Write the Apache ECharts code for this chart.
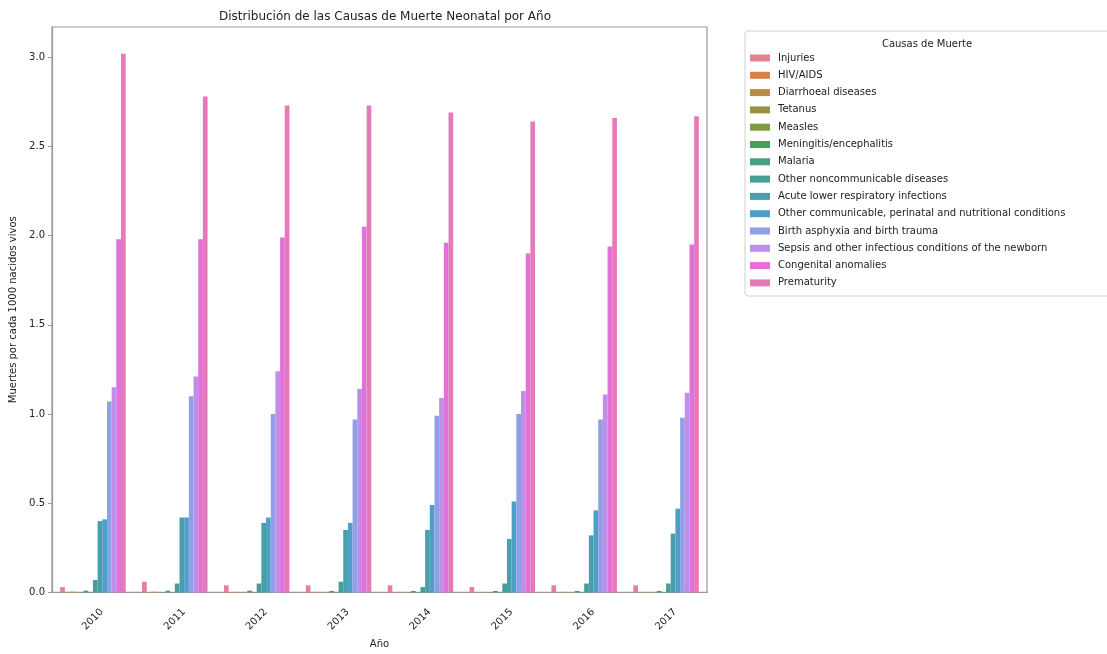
<!DOCTYPE html>
<html>
<head>
<meta charset="utf-8">
<script src="https://cdn.jsdelivr.net/npm/echarts@6/dist/echarts.min.js"></script>
<style>
html,body{margin:0;padding:0;background:#fff;}
#chart{width:1107px;height:654px;}
</style>
</head>
<body>
<div id="chart"></div>
<script>
// ---------------- DATA ----------------
const years = ['2010','2011','2012','2013','2014','2015','2016','2017'];
const causes = ['Injuries','HIV/AIDS','Diarrhoeal diseases','Tetanus','Measles','Meningitis/encephalitis','Malaria','Other noncommunicable diseases','Acute lower respiratory infections','Other communicable, perinatal and nutritional conditions','Birth asphyxia and birth trauma','Sepsis and other infectious conditions of the newborn','Congenital anomalies','Prematurity'];
const injuries      = [0.03, 0.06, 0.04, 0.04, 0.04, 0.03, 0.04, 0.04];
const hivAids       = [0.002, 0.002, 0.002, 0.002, 0.002, 0.002, 0.002, 0.002];
const diarrhoeal    = [0.004, 0.004, 0.003, 0.003, 0.003, 0.003, 0.003, 0.003];
const tetanus       = [0.003, 0.003, 0.002, 0.002, 0.002, 0.002, 0.002, 0.002];
const measles       = [0.001, 0.001, 0.001, 0.001, 0.001, 0.001, 0.001, 0.001];
const meningitis    = [0.01, 0.01, 0.01, 0.008, 0.008, 0.008, 0.008, 0.008];
const malaria       = [0.002, 0.002, 0.002, 0.002, 0.002, 0.002, 0.002, 0.002];
const otherNonComm  = [0.07, 0.05, 0.05, 0.06, 0.03, 0.05, 0.05, 0.05];
const acuteLowerResp= [0.40, 0.42, 0.39, 0.35, 0.35, 0.30, 0.32, 0.33];
const otherComm     = [0.41, 0.42, 0.42, 0.39, 0.49, 0.51, 0.46, 0.47];
const birthAsphyxia = [1.07, 1.10, 1.00, 0.97, 0.99, 1.00, 0.97, 0.98];
const sepsis        = [1.15, 1.21, 1.24, 1.14, 1.09, 1.13, 1.11, 1.12];
const congenital    = [1.98, 1.98, 1.99, 2.05, 1.96, 1.90, 1.94, 1.95];
const prematurity   = [3.02, 2.78, 2.73, 2.73, 2.69, 2.64, 2.66, 2.67];
const yTicks = [0.0, 0.5, 1.0, 1.5, 2.0, 2.5, 3.0];
const seriesValues = [injuries, hivAids, diarrhoeal, tetanus, measles, meningitis, malaria, otherNonComm, acuteLowerResp, otherComm, birthAsphyxia, sepsis, congenital, prematurity];

// ---------------- COLORS (seaborn husl palette, desaturated 0.75) ----------------
const Mx = [[3.2406,-1.5372,-0.4986],[-0.9689,1.8758,0.0415],[0.0557,-0.2040,1.0570]];
function maxChroma(L,H){
  const hr=H*Math.PI/180, s=Math.sin(hr), c=Math.cos(hr);
  const sub1=Math.pow(L+16,3)/1560896; const sub2 = sub1>0.008856?sub1:L/903.3;
  let res=Infinity;
  for(const [m1,m2,m3] of Mx){
    const top=(0.99915*m1+1.05122*m2+1.14460*m3)*sub2;
    const rb=0.86330*m3-0.17266*m2; const lb=0.12949*m3-0.38848*m1;
    const bottom=(rb*s+lb*c)*sub2;
    for(const t of [0,1]){
      const C=L*(top-1.05122*t)/(bottom+0.17266*s*t);
      if(C>0&&C<res) res=C;
    }
  }
  return res;
}
function huslToRgb(H,S,L){
  const C=maxChroma(L,H)/100*S; const hr=H*Math.PI/180;
  const U=C*Math.cos(hr), V=C*Math.sin(hr);
  const refU=0.19784, refV=0.46834;
  const fi=t=>(t*t*t>0.008856? t*t*t : (116*t-16)/903.3);
  const Y=fi((L+16)/116);
  const vU=U/(13*L)+refU, vV=V/(13*L)+refV;
  const X=-(9*Y*vU)/((vU-4)*vV - vU*vV);
  const Z=(9*Y - 15*vV*Y - vV*X)/(3*vV);
  return Mx.map(r=>{let v=r[0]*X+r[1]*Y+r[2]*Z; v=v<=0.0031308?12.92*v:1.055*Math.pow(v,1/2.4)-0.055; return Math.min(1,Math.max(0,v));});
}
function rgbToHls(r,g,b){
  const mx=Math.max(r,g,b), mn=Math.min(r,g,b); const l=(mx+mn)/2;
  if(mx===mn) return [0,l,0];
  const d=mx-mn; const s = l<=0.5 ? d/(mx+mn) : d/(2-mx-mn);
  const rc=(mx-r)/d, gc=(mx-g)/d, bc=(mx-b)/d; let h;
  if(r===mx) h=bc-gc; else if(g===mx) h=2+rc-bc; else h=4+gc-rc;
  h=((h/6)%1+1)%1; return [h,l,s];
}
function hlsToRgb(h,l,s){
  if(s===0) return [l,l,l];
  const m2 = l<=0.5 ? l*(1+s) : l+s-l*s; const m1=2*l-m2;
  const v=(hue)=>{hue=((hue%1)+1)%1; if(hue<1/6) return m1+(m2-m1)*hue*6; if(hue<0.5) return m2; if(hue<2/3) return m1+(m2-m1)*(2/3-hue)*6; return m1;};
  return [v(h+1/3),v(h),v(h-1/3)];
}
function toHex(rgb){return '#'+rgb.map(x=>Math.round(x*255).toString(16).padStart(2,'0')).join('');}
const n=causes.length;
const colors=[];
for(let i=0;i<n;i++){
  const h=((i/n)+0.01)%1*359;
  const rgb=huslToRgb(h,0.9*99,0.65*99);
  const hls=rgbToHls(...rgb);
  colors.push(toHex(hlsToRgb(hls[0],hls[1],hls[2]*0.75)));
}

// ---------------- CHART ----------------
const chart=echarts.init(document.getElementById('chart'),null,{renderer:'canvas'});
const FONT='DejaVu Sans';
const series=causes.map((c,i)=>({
  name:c, type:'bar', data:seriesValues[i],
  barGap:'0%', barCategoryGap:'20%',
  itemStyle:{color:colors[i]}, emphasis:{disabled:true}
}));
chart.setOption({
  animation:false,
  color:colors,
  title:{text:'Distribución de las Causas de Muerte Neonatal por Año', left:380, top:6, textAlign:'center',
    textStyle:{fontFamily:FONT,fontSize:12,fontWeight:'normal',color:'#222'}},
  grid:{left:52, right:400, top:27, bottom:56, show:true, borderColor:'#999', borderWidth:1.2, containLabel:false},
  xAxis:{type:'category', data:years,
    name:'Año', nameLocation:'middle', nameGap:46,
    nameTextStyle:{fontFamily:FONT,fontSize:10,color:'#222'},
    axisLine:{lineStyle:{color:'#999',width:1.2}},
    axisTick:{alignWithLabel:true,length:4,lineStyle:{color:'#999'}},
    axisLabel:{rotate:45, align:'center', verticalAlign:'middle', margin:27, fontFamily:FONT, fontSize:10, color:'#222'}},
  yAxis:{type:'value', min:0, max:3.17,
    name:'Muertes por cada 1000 nacidos vivos', nameLocation:'middle', nameGap:34, nameRotate:90,
    nameTextStyle:{fontFamily:FONT,fontSize:10,color:'#222'},
    splitLine:{show:false},
    axisLine:{show:true,lineStyle:{color:'#999',width:1.2}},
    axisTick:{show:true,length:4,lineStyle:{color:'#999'},customValues:yTicks},
    axisLabel:{customValues:yTicks, formatter:v=>v.toFixed(1), margin:7, fontFamily:FONT, fontSize:10, color:'#222'}},
  legend:{orient:'vertical', left:750, top:52, padding:0, itemWidth:20, itemHeight:7, itemGap:5.3,
    icon:'rect', selectedMode:false,
    textStyle:{fontFamily:FONT,fontSize:10,color:'#222',lineHeight:12,padding:[0,0,0,3]},
    data:causes},
  graphic:[
    {type:'rect', x:745, y:31, z:-1, shape:{x:0,y:0,width:370,height:265,r:3},
      style:{fill:'#fff',stroke:'#d0d0d0',lineWidth:1}},
    {type:'text', x:927, y:39, style:{text:'Causas de Muerte', textAlign:'center', font:'10px "DejaVu Sans"', fill:'#222'}}
  ],
  series:series
});
</script>
</body>
</html>
